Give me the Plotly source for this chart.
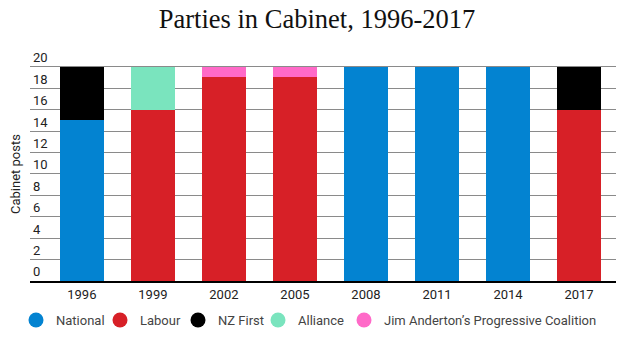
import plotly.graph_objects as go

# Cabinet composition by election year
years = ["1996", "1999", "2002", "2005", "2008", "2011", "2014", "2017"]
national = [15, 0, 0, 0, 20, 20, 20, 0]
labour = [0, 16, 19, 19, 0, 0, 0, 16]
nz_first = [5, 0, 0, 0, 0, 0, 0, 4]
alliance = [0, 4, 0, 0, 0, 0, 0, 0]
progressive = [0, 0, 1, 1, 0, 0, 0, 0]

party_names = ["National", "Labour", "NZ First", "Alliance",
               "Jim Anderton’s Progressive Coalition"]
party_values = [national, labour, nz_first, alliance, progressive]
party_colors = ["#0383D1", "#D72027", "#000000", "#7AE4BE", "#FF6AC8"]

y_ticks = list(range(0, 21, 2))
y_max = 22.5

# left edge (px) of each legend entry along the bottom row
legend_left_px = [16, 100, 178, 258, 344]

W, H = 634, 342
M_LEFT, M_RIGHT, M_TOP, M_BOTTOM = 30, 18, 40, 61
plot_h = H - M_TOP - M_BOTTOM

fig = go.Figure()
for name, values, color in zip(party_names, party_values, party_colors):
    fig.add_trace(go.Bar(
        x=years, y=values, name=name, marker_color=color,
        marker_line_width=0, showlegend=False,
    ))

# circular legend keys, one small legend per party so they sit in a tight row
legend_layouts = {}
for i, (name, color) in enumerate(zip(party_names, party_colors)):
    key = "legend" if i == 0 else f"legend{i + 1}"
    fig.add_trace(go.Scatter(
        x=[None], y=[None], mode="markers", name=name, legend=key,
        marker=dict(symbol="circle", size=15, color=color),
    ))
    legend_layouts[key] = dict(
        orientation="h", xref="container", yref="container",
        x=legend_left_px[i] / W, xanchor="left",
        y=(H - 320) / H, yanchor="middle",
        font=dict(family="Roboto", size=13, color="#444"),
        itemwidth=30, bgcolor="rgba(0,0,0,0)",
    )

fig.update_layout(
    barmode="stack",
    bargap=0.38,
    width=W, height=H,
    margin=dict(l=M_LEFT, r=M_RIGHT, t=M_TOP, b=M_BOTTOM, autoexpand=False),
    paper_bgcolor="white", plot_bgcolor="white",
    font=dict(family="Roboto", size=13, color="#222"),
    title=dict(
        text="Parties in Cabinet, 1996-2017",
        x=0.5, xanchor="center", y=1 - 19 / H, yanchor="middle",
        font=dict(family="Georgia, Liberation Serif, serif", size=26.5, color="#111"),
    ),
    xaxis=dict(
        type="category", range=[-0.73, 7.52],
        showgrid=False, showline=True, linecolor="black", linewidth=2,
        ticks="", tickfont=dict(size=13, color="#222"),
    ),
    yaxis=dict(
        range=[0, y_max], tickvals=y_ticks, ticktext=[str(v) for v in y_ticks],
        ticklabelposition="inside top", automargin=False,
        showgrid=True, gridcolor="#8a8a8a", gridwidth=1,
        zeroline=False, showline=False, ticks="",
        tickfont=dict(size=13, color="#222"),
    ),
    annotations=[dict(
        text="Cabinet posts", textangle=-90,
        xref="paper", yref="paper",
        x=(15 - M_LEFT) / (W - M_LEFT - M_RIGHT), y=(H - M_BOTTOM - 174) / plot_h,
        xanchor="center", yanchor="middle", showarrow=False,
        font=dict(family="Roboto", size=13, color="#222"),
    )],
    **legend_layouts,
)

fig.write_html("out.html")
